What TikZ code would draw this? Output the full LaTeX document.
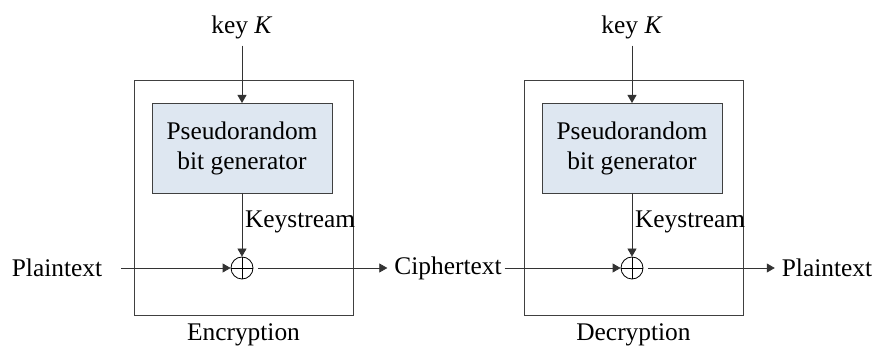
\documentclass[tikz,border=0pt]{standalone}
\usepackage{fontspec}
\setmainfont{Liberation Serif}
\usepackage{tikz}
\usetikzlibrary{arrows.meta}
\usetikzlibrary{positioning}
\definecolor{prngfill}{RGB}{222,231,241}

\begin{document}
\begin{tikzpicture}[x=0.5pt,y=-0.5pt,font=\fontsize{12.7}{15}\selectfont]
    \tikzstyle{frame} = [rectangle, draw=black!75, outer sep=0pt, minimum width=109.5pt, minimum height=117.5pt]
    \tikzstyle{prng} = [rectangle, draw=black!75, fill=prngfill, outer sep=0pt, align=center, minimum width=90pt, minimum height=45pt]
    \tikzstyle{xor} = [circle, draw, minimum size=11pt, inner sep=0pt,
        path picture={\draw (path picture bounding box.north) -- (path picture bounding box.south)
                            (path picture bounding box.west) -- (path picture bounding box.east);}]
    \tikzstyle{flow} = [-{Triangle[length=4pt,width=4.5pt]}, draw=black!80]
    \useasboundingbox (0,0) rectangle (879,352);
        %%% encryption %%%
        \node[frame] (encbox) at (243.5,197.5) {};
        \node[prng] (prng1) at (242,148) {Pseudorandom\\bit generator};
        \node (key1) at (242,27) {key \textit{K}};
        \node[xor] (xor1) at (242,268) {};
        \node[anchor=west] (ks1) at (238,222) {Keystream};
        \node (enclabel) at (243.5,335) {Encryption};
        \node (plainin) at (57,268) {Plaintext};
        \node (cipher) at (448,268) {Ciphertext};
        %%% decryption %%%
        \node[frame,xshift=195pt] (decbox) at (encbox) {};
        \node[prng,xshift=195pt] (prng2) at (prng1) {Pseudorandom\\bit generator};
        \node[xshift=195pt] (key2) at (key1) {key \textit{K}};
        \node[xor,xshift=195pt] (xor2) at (xor1) {};
        \node[anchor=west] (ks2) at (628,222) {Keystream};
        \node[xshift=195pt] (declabel) at (enclabel) {Decryption};
        \node (plainout) at (827,268) {Plaintext};
        %%% connections
        \draw[flow] (key1) -- (prng1);
        \draw[flow] (prng1) -- (xor1);
        \draw[flow,shorten <=6pt] (plainin) -- (xor1);
        \draw[flow,shorten <=2.5pt] (xor1) -- (cipher);
        \draw[flow,shorten <=-2pt] (cipher) -- (xor2);
        \draw[flow] (key2) -- (prng2);
        \draw[flow] (prng2) -- (xor2);
        \draw[flow,shorten <=2.5pt] (xor2) -- (plainout);
\end{tikzpicture}
\end{document}
